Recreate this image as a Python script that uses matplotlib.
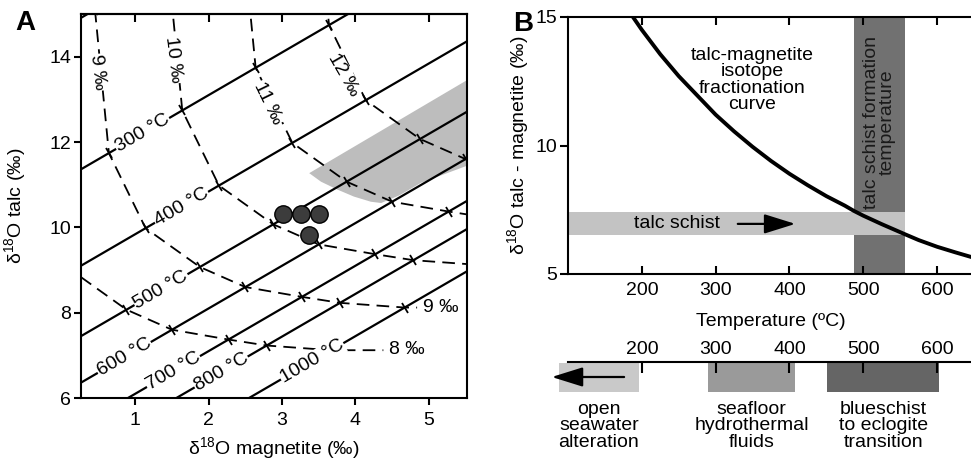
import numpy as np
import matplotlib.pyplot as plt
from matplotlib.markers import MarkerStyle
from matplotlib.transforms import Affine2D

plt.rcParams['font.family'] = ['Liberation Sans', 'DejaVu Sans']
plt.rcParams['mathtext.fontset'] = 'custom'
plt.rcParams['mathtext.rm'] = 'Liberation Sans'
plt.rcParams['font.size'] = 14

# ---- panel A data ----
temps = [200, 300, 400, 500, 600, 700, 800, 1000]
temp_labels = ['', '300 °C', '400 °C', '500 °C', '600 °C', '700 °C', '800 °C', '1000 °C']
d_mag_water = [-8.55, -8.36, -7.86, -7.12, -6.50, -5.73, -5.21, -4.33]
d_talc_water = [6.10, 2.74, 0.98, 0.07, -0.40, -0.63, -0.77, -0.88]
fluid_values = [8, 9, 10, 11, 12]
sample_mag = [3.01, 3.26, 3.51, 3.37]
sample_talc = [10.32, 10.32, 10.32, 9.81]
field_mag = [3.37, 5.53, 5.53, 4.89, 4.60, 4.35, 4.21, 3.98, 3.76, 3.53]
field_talc = [11.27, 13.46, 11.45, 11.04, 10.75, 10.57, 10.60, 10.72, 10.88, 11.07]

# ---- panel B data ----
curve_T = [188, 200, 225, 250, 275, 300, 325, 350, 375, 400, 425, 450, 475, 487,
           500, 525, 557, 575, 600, 625, 650]
curve_d = [15.0, 14.5, 13.55, 12.7, 11.95, 11.2, 10.55, 9.95, 9.4, 8.9, 8.45, 8.03,
           7.66, 7.46, 7.27, 6.94, 6.54, 6.32, 6.06, 5.84, 5.63]
schist_range = (6.5, 7.4)
formation_T = (487, 557)

# ---- temperature scale ----
env_lo = [87.5, 289.5, 451]
env_hi = [196, 407.5, 603]
env_colors = ['#c9c9c9', '#9a9a9a', '#656565']
env_labels = ['open\nseawater\nalteration', 'seafloor\nhydrothermal\nfluids',
              'blueschist\nto eclogite\ntransition']

W, H = 971, 461
fig = plt.figure(figsize=(W / 100, H / 100), dpi=100)
arrow_style = '-|>,head_length=0.8,head_width=0.25'

# ================= panel A =================
axA = fig.add_axes([81 / W, 1 - 398 / H, 386 / W, 384 / H])
axA.set_xlim(0.26, 5.52)
axA.set_ylim(6, 15)

axA.fill(field_mag, field_talc, color='#bdbdbd', lw=0, zorder=1)

xs = np.array([0.0, 6.0])
for dm, dt in zip(d_mag_water, d_talc_water):
    axA.plot(xs, xs + (dt - dm), color='black', lw=1.6, zorder=2)

tick_marker = MarkerStyle('|', transform=Affine2D().rotate_deg(30))
ends = {8: 4.38, 9: 4.84, 10: 6.5, 11: 6.5, 12: 6.5}
for w in fluid_values:
    xm = list(w + np.array(d_mag_water)) + [ends[w]]
    yt = list(w + np.array(d_talc_water))
    yt = yt + [yt[-1]]
    axA.plot(xm, yt, color='black', lw=1.3, dashes=(7, 4), zorder=2)
    axA.plot(xm[:-1], yt[:-1], ls='none', marker=tick_marker, ms=8, mew=1.3,
             color='black', zorder=3)

axA.plot(sample_mag, sample_talc, ls='none', marker='o', ms=12.5, mfc='#3c3c3c',
         mec='black', mew=1, zorder=5)

# isotherm labels
label_pos = {300: 1.10, 400: 1.63, 500: 1.35, 600: 0.85, 700: 1.52, 800: 2.17, 1000: 3.41}
for T, dm, dt, lab in zip(temps, d_mag_water, d_talc_water, temp_labels):
    if not lab:
        continue
    m = label_pos[T]
    axA.text(m, m + (dt - dm), lab, rotation=45, transform_rotates_text=True,
             rotation_mode='anchor', ha='center', va='center', fontsize=14,
             bbox=dict(fc='white', ec='none', pad=0.6), zorder=6)

# fluid labels
box = dict(fc='white', ec='none', pad=0.5)
for x, y, lab, rot in [(0.49, 13.63, '9 ‰', -83), (1.52, 13.93, '10 ‰', -83),
                       (2.81, 12.91, '11 ‰', -64), (3.84, 13.57, '12 ‰', -60)]:
    axA.text(x, y, lab, rotation=rot, ha='center', va='center', fontsize=14,
             rotation_mode='anchor', bbox=box, zorder=6)
axA.text(4.92, 8.12, '9 ‰', ha='left', va='center', fontsize=14, zorder=6)
axA.text(4.46, 7.13, '8 ‰', ha='left', va='center', fontsize=14, zorder=6)

axA.set_xticks([1, 2, 3, 4, 5])
axA.set_yticks([6, 8, 10, 12, 14])
for s in axA.spines.values():
    s.set_linewidth(1.5)
    s.set_zorder(7)
axA.tick_params(axis='both', width=1.5, length=5, labelsize=14)
axA.tick_params(axis='x', direction='out', pad=5)
axA.tick_params(axis='y', direction='out', pad=2)
top = axA.secondary_xaxis('top')
top.set_xticks([1, 2, 3, 4, 5], labels=[])
top.tick_params(direction='in', length=6, width=1.5)
top.spines['top'].set_linewidth(1.5)

axA.set_xlabel('δ$^{18}$O magnetite (‰)', fontsize=14)
axA.xaxis.set_label_coords(0.5, -0.097)
axA.set_ylabel('δ$^{18}$O talc (‰)', fontsize=14)
axA.yaxis.set_label_coords(-0.135, 0.5)

# ================= panel B =================
axB = fig.add_axes([568 / W, 1 - 274 / H, (974 - 568) / W, 257 / H])
axB.set_xlim(100, 650)
axB.set_ylim(5, 15)
axB.axvspan(formation_T[0], formation_T[1], color='#717171', lw=0, zorder=1)
axB.fill_between([100, formation_T[1]], schist_range[0], schist_range[1],
                 color='#c3c3c3', lw=0, zorder=2)
axB.plot(curve_T, curve_d, color='black', lw=2.8, zorder=3)

axB.text(350, 12.55, 'talc-magnetite\nisotope\nfractionation\ncurve', ha='center',
         va='center', fontsize=14, linespacing=0.95, zorder=4)
axB.text(247, 6.95, 'talc schist', ha='center', va='center', fontsize=14, zorder=4)
axB.annotate('', xy=(408, 6.95), xytext=(330, 6.95),
             arrowprops=dict(arrowstyle=arrow_style, color='black', lw=1.6,
                             mutation_scale=24, shrinkA=0, shrinkB=0), zorder=4)
axB.text(522, 10.9, 'talc schist formation\ntemperature', rotation=90, ha='center',
         va='center', fontsize=14, linespacing=0.95, color='#1a1a1a', zorder=4)

axB.set_xticks([200, 300, 400, 500, 600])
axB.set_yticks([5, 10, 15])
for s in axB.spines.values():
    s.set_linewidth(1.5)
axB.tick_params(axis='x', direction='in', top=True, length=6, width=1.5, pad=6,
                labelsize=14)
axB.tick_params(axis='y', direction='out', length=6, width=1.5, pad=2, labelsize=14)
axB.set_xlabel('Temperature (ºC)', fontsize=14)
axB.xaxis.set_label_coords(0.5, -0.15)
axB.set_ylabel('δ$^{18}$O talc - magnetite (‰)', fontsize=14)
axB.yaxis.set_label_coords(-0.088, 0.5)

# ================= temperature scale =================
axS = fig.add_axes([568 / W, 1 - 392 / H, (974 - 568) / W, 30 / H])
axS.set_xlim(100, 650)
axS.set_ylim(0, 1)
axS.bar(env_lo, 0.97, width=np.array(env_hi) - np.array(env_lo), align='edge',
        color=env_colors, lw=0, clip_on=False, zorder=1)
for lo, hi, lab in zip(env_lo, env_hi, env_labels):
    axS.text((lo + hi) / 2, -0.3, lab, ha='center', va='top', fontsize=14,
             linespacing=0.95)
axS.annotate('', xy=(78, 0.5), xytext=(176, 0.5), annotation_clip=False,
             arrowprops=dict(arrowstyle=arrow_style, color='black', lw=1.6,
                             mutation_scale=24, shrinkA=0, shrinkB=0))
for k in ['left', 'right', 'bottom']:
    axS.spines[k].set_visible(False)
axS.spines['top'].set_linewidth(1.5)
axS.set_yticks([])
axS.set_xticks([200, 300, 400, 500, 600])
axS.tick_params(axis='x', top=True, bottom=False, labeltop=True, labelbottom=False,
                direction='in', length=8, width=1.5, pad=3, labelsize=14)

fig.text(25 / W, 1 - 23 / H, 'A', fontsize=20, fontweight='bold', ha='center', va='center')
fig.text(523 / W, 1 - 24 / H, 'B', fontsize=20, fontweight='bold', ha='center', va='center')

fig.savefig('out.png', dpi=100)
